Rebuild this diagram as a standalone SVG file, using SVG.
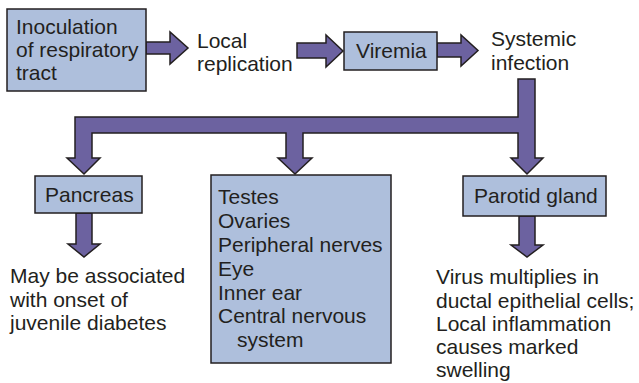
<svg xmlns="http://www.w3.org/2000/svg" width="639" height="383" viewBox="0 0 639 383">
<style>
.box{fill:#aebfdc;stroke:#231f20;stroke-width:1.5}
.arr{fill:#6c62a0;stroke:#231f20;stroke-width:1.5;stroke-linejoin:miter}
text{font-family:"Liberation Sans",Arial,sans-serif;font-size:21px;fill:#231f20}
</style>
<rect width="639" height="383" fill="#fff"/>
<g id="connectors">
<path class="arr" d="M146,42 H170 V32 L188,48 L170,64 V54 H146 Z"/>
<path class="arr" d="M297,43 H326 V35 L343,51 L326,67 V58 H297 Z"/>
<path class="arr" d="M437,43 H461 V35 L478,50.5 L461,66 V57 H437 Z"/>
<path class="arr" d="M518,79 H535 V158 H543 L527,174 L511,158 H518 V133 H303 V158 H312 L295,174 L278,158 H286 V133 H92 V158 H100 L84,174 L67,158 H75 V117 H518 Z"/>
<path class="arr" d="M76,213 H92 V244 H100 L84,257 L68,244 H76 Z"/>
<path class="arr" d="M519,216 H535 V245 H543 L527,257 L511,245 H519 Z"/>
</g>
<g id="inoculation">
<rect class="box" x="7" y="9" width="139" height="82"/>
<text x="16" y="34">Inoculation</text>
<text x="16" y="57">of respiratory</text>
<text x="16" y="80">tract</text>
</g>
<g id="local-replication">
<text x="197" y="48">Local</text>
<text x="197" y="71">replication</text>
</g>
<g id="viremia">
<rect class="box" x="344" y="32" width="93" height="38"/>
<text x="356" y="58">Viremia</text>
</g>
<g id="systemic-infection">
<text x="491" y="46">Systemic</text>
<text x="491" y="70">infection</text>
</g>
<g id="pancreas">
<rect class="box" x="35" y="176" width="107" height="37"/>
<text x="45" y="202">Pancreas</text>
</g>
<g id="organs">
<rect class="box" x="211" y="175" width="180" height="188"/>
<text x="218" y="204">Testes</text>
<text x="218" y="228">Ovaries</text>
<text x="218" y="252">Peripheral nerves</text>
<text x="218" y="276">Eye</text>
<text x="218" y="300">Inner ear</text>
<text x="218" y="323">Central nervous</text>
<text x="237" y="347">system</text>
</g>
<g id="parotid">
<rect class="box" x="463" y="176" width="143" height="40"/>
<text x="474" y="203">Parotid gland</text>
</g>
<g id="diabetes">
<text x="10" y="283">May be associated</text>
<text x="10" y="307">with onset of</text>
<text x="10" y="330">juvenile diabetes</text>
</g>
<g id="parotid-effects">
<text x="436" y="284">Virus multiplies in</text>
<text x="436" y="308">ductal epithelial cells;</text>
<text x="436" y="331">Local inflammation</text>
<text x="436" y="354">causes marked</text>
<text x="436" y="377">swelling</text>
</g>
</svg>
